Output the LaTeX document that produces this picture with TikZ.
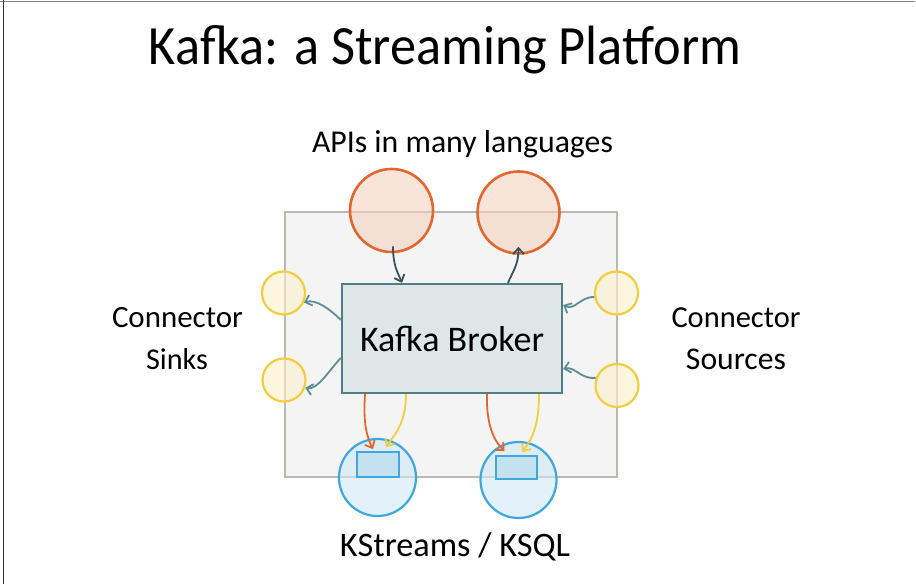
\documentclass[tikz,border=0pt]{standalone}
\usepackage{fontspec}
\usepackage{graphicx}
\setmainfont{Carlito}
\usetikzlibrary{arrows.meta}
\definecolor{boxfill}{HTML}{F4F4F4}
\definecolor{boxdraw}{HTML}{BDB8B0}
\definecolor{orgdraw}{HTML}{E2672F}
\definecolor{orgfill}{HTML}{F5D2C1}
\definecolor{yeldraw}{HTML}{F3CD3E}
\definecolor{yelfill}{HTML}{FCF0CB}
\definecolor{bludraw}{HTML}{3EA7DD}
\definecolor{blufill}{HTML}{D0E9F7}
\definecolor{bluin}{HTML}{C3E1EF}
\definecolor{brkfill}{HTML}{DFE6E7}
\definecolor{brkdraw}{HTML}{4F7F82}
\definecolor{darkarr}{HTML}{37505A}
\definecolor{tealarr}{HTML}{5B8E92}
\definecolor{framec}{HTML}{333333}
\newcommand\fitw[2]{\resizebox{#1}{!}{#2}}
\newcommand\fitwh[3]{\resizebox{#1}{#2}{#3}}
\tikzset{
  platbox/.style={draw=boxdraw, fill=boxfill, line width=2.4pt, minimum width=332pt, minimum height=265pt, inner sep=0pt},
  apicirc/.style={circle, draw=orgdraw, fill=orgfill, fill opacity=0.6, draw opacity=1, line width=2.6pt, inner sep=0pt},
  concirc/.style={circle, draw=yeldraw, fill=yelfill, fill opacity=0.6, draw opacity=1, line width=2.2pt, inner sep=0pt, minimum size=43pt},
  kscirc/.style={circle, draw=bludraw, fill=blufill, fill opacity=0.6, draw opacity=1, line width=2.2pt, inner sep=0pt},
  ksrect/.style={draw=bludraw, fill=bluin, line width=1.8pt, inner sep=0pt},
  brokerbox/.style={draw=brkdraw, fill=brkfill, line width=2.3pt, minimum width=220pt, minimum height=109pt, inner sep=0pt},
  lbl/.style={text=black, inner sep=0pt, align=center},
  arr/.style={line width=1.8pt, -{Straight Barb[length=6pt,width=11pt]}},
  darkarrow/.style={arr, draw=darkarr},
  tealarrow/.style={arr, draw=tealarr},
  orgarrow/.style={arr, draw=orgdraw},
  yelarrow/.style={arr, draw=yeldraw},
}
\begin{document}
\begin{tikzpicture}[x=1pt,y=1pt]
\useasboundingbox (0,0) rectangle (916,584);
\fill[white] (0,0) rectangle (916,584);
\draw[line width=1.5pt, gray] (0,582.5) -- (915,582.5);
\draw[line width=1.6pt, framec] (3.5,0) -- (3.5,584);

\node[lbl] (title) at (445,534) {\fitwh{592pt}{39pt}{Kafka: a Streaming Platform}};

\node[platbox] (plat) at (451,239.5) {};

\node[apicirc, minimum size=83pt] (api1) at (391.5,373.5) {};
\node[apicirc, minimum size=82pt] (api2) at (518.5,371.5) {};

\node[concirc] (snk1) at (283.5,291) {};
\node[concirc] (snk2) at (284,204) {};
\node[concirc] (src1) at (616.5,291) {};
\node[concirc] (src2) at (617,198.5) {};

\node[kscirc, minimum size=77pt] (ks1) at (377.5,106.5) {};
\node[kscirc, minimum size=76pt] (ks2) at (518.5,104) {};
\node[ksrect, minimum width=42pt, minimum height=25pt] (kr1) at (378,119.5) {};
\node[ksrect, minimum width=41pt, minimum height=23pt] (kr2) at (516.5,116.5) {};

\node[brokerbox] (broker) at (452,245.5) {};
\node[lbl] (brokertxt) at (broker) {\fitw{184pt}{Kafka Broker}};

\node[lbl] (apilbl) at (462.5,440) {\fitw{301pt}{APIs in many languages}};
\node[lbl] (sinks1) at (177.5,266) {\fitw{131pt}{Connector}};
\node[lbl] (sinks2) at (177,225) {\fitw{62pt}{Sinks}};
\node[lbl] (src1lbl) at (736,266) {\fitw{129pt}{Connector}};
\node[lbl] (src2lbl) at (736,225) {\fitw{100pt}{Sources}};
\node[lbl] (kslbl) at (455,37) {\fitw{230pt}{KStreams / KSQL}};

% API arrows
\draw[darkarrow] ([shift={(1.5,7)}]api1.south) .. controls +(0,-20) and +(-4,10) .. ([xshift=-50pt]broker.north);
\draw[darkarrow] ([xshift=56pt]broker.north) .. controls +(5,12) and +(0,-18) .. ([shift={(0,8)}]api2.south);

% sink arrows
\draw[tealarrow] ([yshift=18.5pt]broker.west) .. controls +(-10,10) and +(12,4) .. (snk1.-25);
\draw[tealarrow] ([yshift=-19.5pt]broker.west) .. controls +(-10,-10) and +(12,-3) .. (snk2.-20);

% source arrows
\draw[tealarrow] (src1.190) .. controls +(-15,0) and +(12,-6) .. ([yshift=33.5pt]broker.east);
\draw[tealarrow] (src2.160) .. controls +(-15,-2) and +(12,3) .. ([yshift=-30.5pt]broker.east);

% stream arrows
\draw[orgarrow] ([xshift=-87pt]broker.south) .. controls +(-2,-30) and +(-6,12) .. ([shift={(-5,2)}]kr1.north);
\draw[yelarrow] ([xshift=-46pt]broker.south) .. controls +(0,-30) and +(8,12) .. ([shift={(8,4)}]kr1.north);
\draw[orgarrow] ([xshift=35pt]broker.south) .. controls +(-1,-35) and +(-8,8) .. ([shift={(-12,4)}]kr2.north);
\draw[yelarrow] ([xshift=87pt]broker.south) .. controls +(0,-35) and +(8,12) .. ([shift={(6,3)}]kr2.north);
\end{tikzpicture}
\end{document}
